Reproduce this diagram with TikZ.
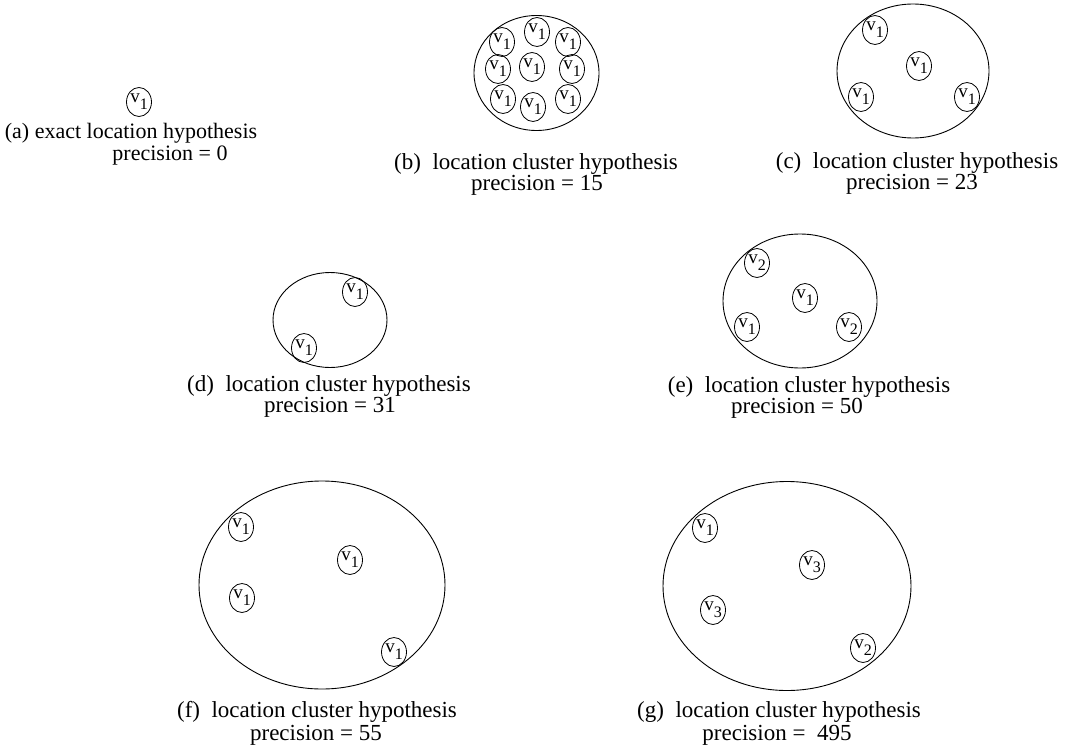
\documentclass[tikz,border=0pt]{standalone}
\usepackage{fontspec}
\setmainfont{Liberation Serif}
\usetikzlibrary{shapes.geometric}
\newcommand{\vlab}[1]{{\fontsize{19}{19}\selectfont v}\raisebox{-7pt}{\fontsize{16}{16}\selectfont #1}}
\tikzset{
  vert/.style={draw, ellipse, line width=0.8pt, inner sep=0pt, minimum width=25pt, minimum height=29pt},
  cluster/.style={draw, ellipse, line width=0.9pt, inner sep=0pt},
  captxt/.style={anchor=base, inner sep=0pt, font=\fontsize{23}{25}\selectfont},
  captsmall/.style={captxt, font=\fontsize{22}{24}\selectfont}
}
\begin{document}
\begin{tikzpicture}[x=1pt,y=-1pt]
\useasboundingbox (0,0) rectangle (1067,749);
% (a)
\node[vert] (a1) at (139,102) {\vlab{1}};
\node[captsmall] (acap1) at (131,139) {(a) exact location hypothesis};
\node[captsmall] (acap2) at (170,160) {precision = 0};
% (b)
\node[cluster, minimum width=125pt, minimum height=115pt] (B) at (536.5,73) {};
\node[vert] (b1) at (502,42) {\vlab{1}};
\node[vert] (b2) at (537,32) {\vlab{1}};
\node[vert] (b3) at (568,42) {\vlab{1}};
\node[vert] (b4) at (498,69) {\vlab{1}};
\node[vert] (b5) at (532,67) {\vlab{1}};
\node[vert] (b6) at (572,69) {\vlab{1}};
\node[vert] (b7) at (503,99) {\vlab{1}};
\node[vert] (b8) at (533,107) {\vlab{1}};
\node[vert] (b9) at (568,99) {\vlab{1}};
\node[captxt] (bcap1) at (536,169) {(b)\ \ location cluster hypothesis};
\node[captxt] (bcap2) at (537,190) {precision = 15};
% (c)
\node[cluster, minimum width=152pt, minimum height=134pt] (C) at (913,71) {};
\node[vert] (c1) at (875,30) {\vlab{1}};
\node[vert] (c2) at (919,66) {\vlab{1}};
\node[vert] (c3) at (861,97) {\vlab{1}};
\node[vert] (c4) at (967,97) {\vlab{1}};
\node[captxt] (ccap1) at (917,168) {(c)\ \ location cluster hypothesis};
\node[captxt] (ccap2) at (912,189) {precision = 23};
% (d)
\node[cluster, minimum width=114pt, minimum height=95pt] (D) at (330,320) {};
\node[vert] (d1) at (355,292) {\vlab{1}};
\node[vert] (d2) at (304,348) {\vlab{1}};
\node[captxt] (dcap1) at (329,391) {(d)\ \ location cluster hypothesis};
\node[captxt] (dcap2) at (330,412) {precision = 31};
% (e)
\node[cluster, minimum width=154pt, minimum height=134pt] (E) at (800,301) {};
\node[vert] (e1) at (757,263) {\vlab{2}};
\node[vert] (e2) at (805,298) {\vlab{1}};
\node[vert] (e3) at (747,327) {\vlab{1}};
\node[vert] (e4) at (849,327) {\vlab{2}};
\node[captxt] (ecap1) at (809,392) {(e)\ \ location cluster hypothesis};
\node[captxt] (ecap2) at (797,413) {precision = 50};
% (f)
\node[cluster, minimum width=246pt, minimum height=208pt] (F) at (322,585) {};
\node[vert] (f1) at (241,527) {\vlab{1}};
\node[vert] (f2) at (350,560) {\vlab{1}};
\node[vert] (f3) at (242,598) {\vlab{1}};
\node[vert] (f4) at (394,652) {\vlab{1}};
\node[captxt] (fcap1) at (317,717) {(f)\ \ location cluster hypothesis};
\node[captxt] (fcap2) at (316,740) {precision = 55};
% (g)
\node[cluster, minimum width=248pt, minimum height=209pt] (G) at (787,586) {};
\node[vert] (g1) at (705,528) {\vlab{1}};
\node[vert] (g2) at (812,565) {\vlab{3}};
\node[vert] (g3) at (713,610) {\vlab{3}};
\node[vert] (g4) at (863,648) {\vlab{2}};
\node[captxt] (gcap1) at (779,717) {(g)\ \ location cluster hypothesis};
\node[captxt] (gcap2) at (777,740) {precision =\ \ 495};
\end{tikzpicture}
\end{document}
